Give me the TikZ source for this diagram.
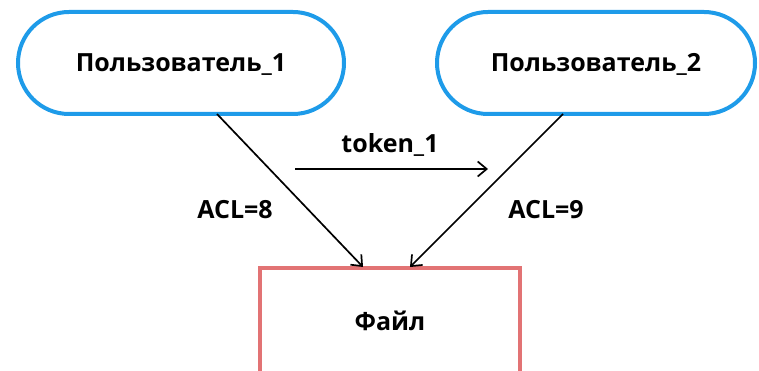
\documentclass[tikz,border=0pt]{standalone}
\usepackage{fontspec}
\setmainfont{Open Sans}
\usetikzlibrary{arrows.meta,shapes.misc}
\definecolor{userblue}{HTML}{1E9BE9}
\definecolor{filered}{HTML}{E27374}
\begin{document}
\begin{tikzpicture}[x=1pt,y=-1pt,
  user/.style={rounded rectangle, draw=userblue, line width=4pt, minimum width=326pt, minimum height=102pt, inner sep=0pt, text height=17pt, text depth=0pt, font=\fontsize{25}{30}\selectfont\bfseries},
  filebox/.style={draw=filered, line width=4pt, inner sep=0pt},
  lbl/.style={font=\fontsize{25}{30}\selectfont\bfseries, inner sep=0pt, text height=17pt, text depth=0pt},
  conn/.style={line width=1.7pt, -{Straight Barb[length=9pt,width=15pt,line width=1.7pt]}}]
\useasboundingbox (0,0) rectangle (759,371);
\clip (0,0) rectangle (759,371);
\node[user] (u1) at (181,63) {Пользователь\_1};
\node[user, minimum width=318pt] (u2) at (596,63) {Пользователь\_2};
\draw[filebox] (260,268) rectangle (520,390);
\node[lbl] (file) at (390,322) {Файл};
\coordinate (ftop1) at (363,267);
\coordinate (ftop2) at (410,267);
\coordinate (u1b) at (217,114);
\coordinate (u2b) at (563,114);
\draw[conn] (u1b) -- (ftop1);
\draw[conn] (u2b) -- (ftop2);
\coordinate (tokA) at (295,169);
\coordinate (tokB) at (488,169);
\draw[conn] (tokA) -- (tokB);
\node[lbl] (tok) at (390,144) {token\_1};
\node[lbl] (acl8) at (235,210) {ACL=8};
\node[lbl] (acl9) at (546,210) {ACL=9};
\end{tikzpicture}
\end{document}
